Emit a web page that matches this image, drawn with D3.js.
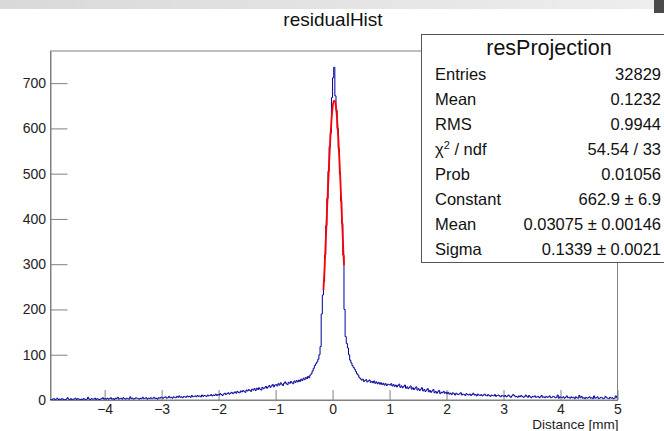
<!DOCTYPE html>
<html>
<head>
<meta charset="utf-8">
<script src="https://cdn.jsdelivr.net/npm/d3@7"></script>
<style>
  body { margin: 0; background: #fff; }
  svg { display: block; }
  text { font-family: "Liberation Sans", Arial, Helvetica, sans-serif; }
</style>
</head>
<body>
<div id="chart"></div>
<script>
// histogram (counts per bin, bins of 0.02 mm starting at -4.96)
const histStart = -4.96;
const binWidth = 0.02;

const countsLeft = [
  1,0,2,3,1,2,4,1, 2,1,3,2,0,1,2,5,2,1, 3,1,2,2,4,1,3,2,1,2, 0,3,2,1,2,6,2,1,3,2, 2,4,1,3,2,1,2,3,5,2,
  3,2,4,2,3,5,2,3,1,4, 3,6,2,3,4,2,5,3,2,4, 3,2,7,3,4,2,3,5,4,3, 2,4,3,6,3,4,5,2,4,3, 5,3,4,6,3,4,2,5,4,6,
  5,4,6,7,4,5,8,5,6,4, 7,6,5,8,6,9,6,7,5,8, 7,6,9,7,8,6,10,7,8,9, 7,10,8,9,7,11,8,10,9,8, 11,9,10,12,9,11,10,13,10,12,
  11,14,12,10,13,15,12,14,16,13, 15,17,14,16,18,15,19,17,16,20, 18,21,19,17,22,20,23,21,19,24, 22,25,21,26,23,27,24,22,28,25, 27,30,26,29,32,28,31,34,29,33
];

const countsCore = [
  34,31,36,33,38,35,32,37,40,36, 34,39,37,41,38,36,42,39,43,40,
  44,41,46,43,48,45,50,47,52,49,
  55,58,64,70,76, 80,84,90,100,118,
  190,232,262,320,385, 445,505,560,590,668,
  712,735,672,640,600, 555,500,440,390,320,
  200,140,125,115,100, 88,82,76,72,68,
  63,58,55,50,47,
  44,46,41,43,45,40,42,44,39,41,38,42,37,40,36,39,35,38,34,37,33,36,32,35,34
];

const countsRight = [
  33,36,31,34,30,33,29,32,35,28, 31,27,30,33,26,29,25,28,31,24, 27,23,26,29,22,25,21,24,27,20, 23,19,22,25,18,21,17,20,23,16, 19,15,18,21,14,17,16,19,15,17,
  14,17,13,15,12,16,14,11,15,13, 12,14,16,11,13,12,10,14,12,11, 13,10,12,15,11,12,9,13,11,10, 12,9,11,13,10,9,12,10,8,11, 10,9,12,8,10,11,9,7,10,9,
  8,10,7,9,11,8,6,9,12,10, 7,8,6,9,7,10,8,6,7,11, 8,6,10,7,5,8,7,9,6,7, 8,5,7,10,6,7,5,8,6,7, 9,5,6,8,7,5,6,11,4,7,
  6,5,7,4,6,9,5,6,4,7, 5,6,3,7,5,4,10,5,8,4, 5,3,6,4,5,7,4,5,3,9, 4,5,7,3,4,6,5,3,4,8, 5,4,3,6,4,5,3,4,9,5
];

// gaussian fit curve as drawn (red)
const fitX = [-0.16,-0.14,-0.12,-0.10,-0.08,-0.06,-0.04,-0.02,0.00,0.02,0.04,0.06,0.08,0.10,0.12,0.14,0.16,0.18,0.20];
const fitY = [243,293,351,411,470,526,576,617,646,661,661,647,619,580,531,475,416,356,298];

// axes
const xTicks = [-4,-3,-2,-1,0,1,2,3,4,5];
const yTicks = [0,100,200,300,400,500,600,700];

// stats box
const statsTitle = "resProjection";
const statLabels = ["Entries","Mean","RMS","χ2 / ndf","Prob","Constant","Mean","Sigma"];
const statValues = ["32829","0.1232","0.9944","54.54 / 33","0.01056","662.9 ± 6.9","0.03075 ± 0.00146","0.1339 ± 0.0021"];

const W = 664, H = 431;
const frame = { left: 50.5, right: 617.5, top: 51, bottom: 400 };

const svg = d3.select("#chart").append("svg")
  .attr("width", W).attr("height", H);

// window strip at the top
const grad = svg.append("defs").append("linearGradient").attr("id", "strip");
grad.append("stop").attr("offset", "0%").attr("stop-color", "#d9d9d9");
grad.append("stop").attr("offset", "100%").attr("stop-color", "#eeeeee");
svg.append("rect").attr("x", 0).attr("y", 0).attr("width", W).attr("height", 9).attr("fill", "url(#strip)");
svg.append("rect").attr("x", 654).attr("y", 0).attr("width", 10).attr("height", 13).attr("fill", "#4a4a4a");

svg.append("text")
  .attr("x", 333).attr("y", 26)
  .attr("text-anchor", "middle")
  .attr("font-size", 19)
  .attr("fill", "#111")
  .text("residualHist");

const x = d3.scaleLinear().domain([-4.95, 5]).range([frame.left, frame.right]);
const y = d3.scaleLinear().domain([0, 771]).range([frame.bottom, frame.top]);

const axisColor = "#808080";

// frame
svg.append("rect")
  .attr("x", frame.left).attr("y", frame.top)
  .attr("width", frame.right - frame.left).attr("height", frame.bottom - frame.top)
  .attr("fill", "none").attr("stroke", axisColor).attr("stroke-width", 1);

// x axis
const gx = svg.append("g").attr("transform", `translate(0,${frame.bottom})`);
gx.call(d3.axisBottom(x).tickValues(d3.range(-4.8, 5.01, 0.2)).tickSize(-5).tickFormat(""));
gx.call(d3.axisBottom(x).tickValues(xTicks).tickSize(-10).tickPadding(4.5).tickSizeOuter(0));
gx.selectAll("path.domain").attr("stroke", axisColor);
gx.selectAll("line").attr("stroke", axisColor);
gx.selectAll("text").attr("font-size", 14).attr("fill", "#222")
  .style("font-family", '"Liberation Sans", Arial, sans-serif');

svg.append("text")
  .attr("x", frame.right + 1).attr("y", 428.5)
  .attr("text-anchor", "end")
  .attr("font-size", 13.5).attr("fill", "#222")
  .text("Distance [mm]");

// y axis
const gy = svg.append("g").attr("transform", `translate(${frame.left},0)`);
gy.call(d3.axisLeft(y).tickValues(d3.range(20, 771, 20)).tickSize(-8.5).tickFormat(""));
gy.call(d3.axisLeft(y).tickValues(yTicks).tickSize(-17).tickPadding(4.5).tickSizeOuter(0));
gy.selectAll("path.domain").attr("stroke", axisColor);
gy.selectAll("line").attr("stroke", axisColor);
gy.selectAll("text").attr("font-size", 14).attr("fill", "#222")
  .style("font-family", '"Liberation Sans", Arial, sans-serif');

// histogram
svg.append("clipPath").attr("id", "clip")
  .append("rect")
  .attr("x", frame.left).attr("y", frame.top)
  .attr("width", frame.right - frame.left).attr("height", frame.bottom - frame.top);

const counts = countsLeft.concat(countsCore, countsRight);
const histPts = counts.map((c, i) => [histStart + i * binWidth, c]);
histPts.push([histStart + counts.length * binWidth, counts[counts.length - 1]]);

const line = d3.line()
  .x(d => x(d[0]))
  .y(d => y(d[1]));

svg.append("path")
  .datum(histPts)
  .attr("clip-path", "url(#clip)")
  .attr("d", line.curve(d3.curveStepAfter))
  .attr("fill", "none")
  .attr("stroke", "#000099")
  .attr("stroke-width", 1);

// fit
svg.append("path")
  .datum(fitX.map((v, i) => [v, fitY[i]]))
  .attr("d", d3.line().x(d => x(d[0])).y(d => y(d[1])).curve(d3.curveMonotoneX))
  .attr("fill", "none")
  .attr("stroke", "#ff0000")
  .attr("stroke-width", 1.8);

// stats box
const box = { left: 421.5, top: 34.5, right: 680, bottom: 262.5 };
svg.append("rect")
  .attr("x", box.left).attr("y", box.top)
  .attr("width", box.right - box.left).attr("height", box.bottom - box.top)
  .attr("fill", "#fff").attr("stroke", "#555").attr("stroke-width", 1);

svg.append("text")
  .attr("x", 549).attr("y", 55)
  .attr("text-anchor", "middle")
  .attr("font-size", 21.5).attr("fill", "#111")
  .text(statsTitle);

const rowY = i => 79.5 + i * 25;

statLabels.forEach((lab, i) => {
  const t = svg.append("text")
    .attr("x", 435).attr("y", rowY(i))
    .attr("font-size", 16.5).attr("fill", "#111");
  if (lab.startsWith("χ2")) {
    t.append("tspan").text("χ");
    t.append("tspan").attr("font-size", 11).attr("dy", -6).text("2");
    t.append("tspan").attr("dy", 6).text(" / ndf");
  } else {
    t.text(lab);
  }
});

svg.selectAll("text.val")
  .data(statValues)
  .join("text")
  .attr("class", "val")
  .attr("x", 661).attr("y", (d, i) => rowY(i))
  .attr("text-anchor", "end")
  .attr("font-size", 16.5).attr("fill", "#111")
  .text(d => d);
</script>
</body>
</html>
